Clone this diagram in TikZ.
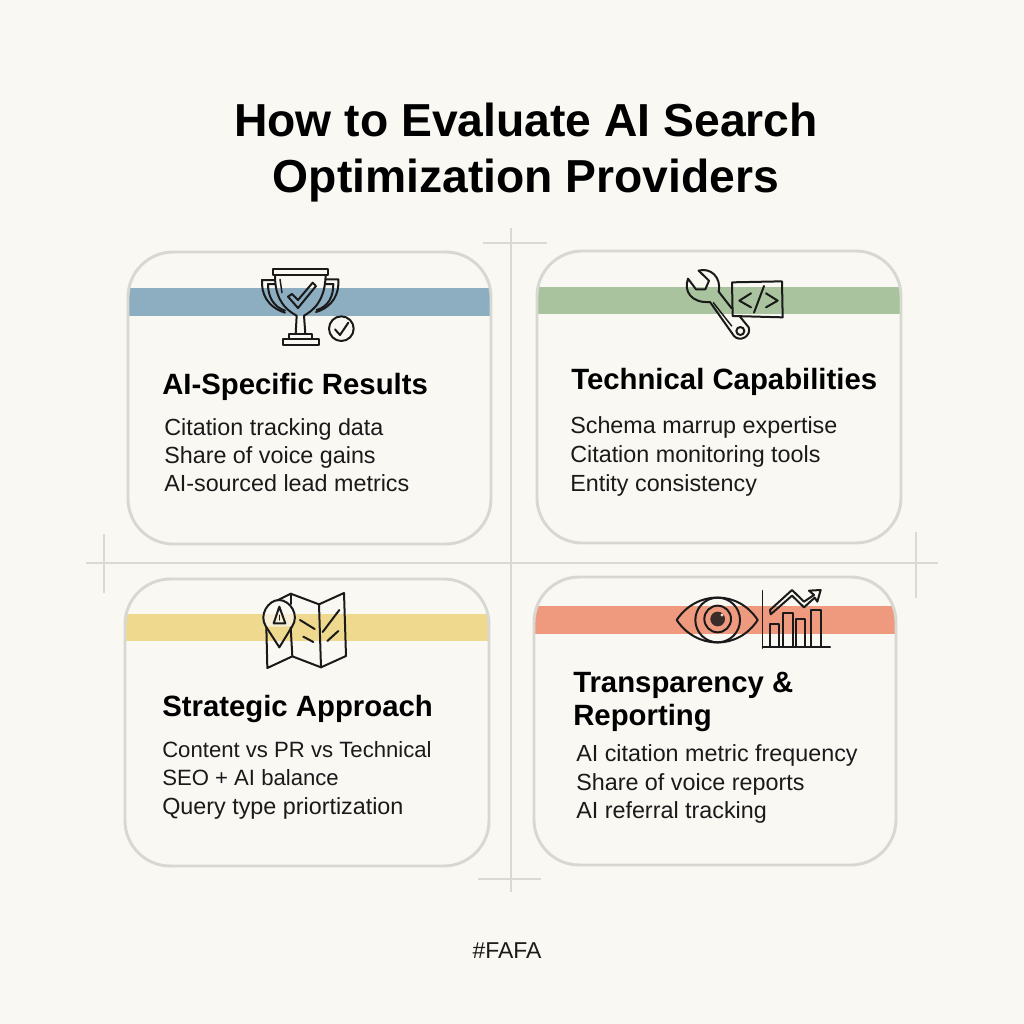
\documentclass[tikz,border=0pt]{standalone}
\usepackage{fontspec}
\setmainfont{Liberation Sans}
\definecolor{bg}{HTML}{F9F8F3}
\definecolor{cardline}{HTML}{D8D8D3}
\definecolor{crossline}{HTML}{DAD9D4}
\definecolor{ink}{HTML}{1A1A1A}
\definecolor{bandblue}{HTML}{8DADC1}
\definecolor{bandgreen}{HTML}{A9C39E}
\definecolor{bandyellow}{HTML}{EFD98F}
\definecolor{bandred}{HTML}{EF9A7E}
\newcommand{\titlefont}{\fontsize{34.7pt}{42pt}\selectfont\bfseries}
\newcommand{\headfont}{\fontsize{22pt}{25pt}\selectfont\bfseries}
\newcommand{\bodyfont}{\fontsize{17.5pt}{21pt}\selectfont}
\newcommand{\bodysmallfont}{\fontsize{16.6pt}{21pt}\selectfont}
\tikzset{
  crossrule/.style={draw=crossline,line width=1.5pt},
  cardbox/.style={draw=cardline,line width=2.2pt,rounded corners=34pt},
  titletext/.style={inner sep=0pt,anchor=base,text=black,font=\titlefont},
  headtext/.style={inner sep=0pt,anchor=base west,text=black,font=\headfont},
  bodytext/.style={inner sep=0pt,anchor=base west,text=ink,font=\bodyfont},
  bodysmall/.style={bodytext,font=\bodysmallfont},
  icon/.style={draw=ink,line width=1.5pt,line join=round,line cap=round},
  iconthin/.style={draw=ink,line width=1.1pt,line join=round,line cap=round},
}
\newcommand{\cardpic}[5]{%
  \begin{scope}
    \clip[rounded corners=34pt] (#1,#2) rectangle (#3,#4);
    \fill[#5] (#1,\bandtop) rectangle (#3,\bandbot);
  \end{scope}
  \draw[cardbox] (#1,#2) rectangle (#3,#4);
}
\begin{document}
\begin{tikzpicture}[x=0.75pt,y=-0.75pt]
\useasboundingbox (0,0) rectangle (1024,1024);
\fill[bg] (0,0) rectangle (1024,1024);
% cross
\coordinate (vt) at (511,228); \coordinate (vb) at (511,892);
\coordinate (hl) at (86,563); \coordinate (hr) at (938,563);
\coordinate (tl) at (483,243); \coordinate (tr) at (547,243);
\coordinate (bl) at (478,879); \coordinate (br) at (541,879);
\coordinate (lt) at (104,534); \coordinate (lb) at (104,593);
\coordinate (rt) at (916,532); \coordinate (rb) at (916,598);
\draw[crossrule] (vt) -- (vb);
\draw[crossrule] (hl) -- (hr);
\draw[crossrule] (tl) -- (tr);
\draw[crossrule] (bl) -- (br);
\draw[crossrule] (lt) -- (lb);
\draw[crossrule] (rt) -- (rb);
% cards
\def\bandtop{288}\def\bandbot{316}\cardpic{128}{252}{491}{544}{bandblue}
\def\bandtop{287}\def\bandbot{314}\cardpic{537}{251}{901}{543}{bandgreen}
\def\bandtop{614}\def\bandbot{641}\cardpic{125}{579}{489}{866}{bandyellow}
\def\bandtop{606}\def\bandbot{634}\cardpic{534}{577}{896}{865}{bandred}
% title
\node[titletext] (title1) at (526,136) {How to Evaluate AI Search};
\node[titletext] (title2) at (526,192) {Optimization Providers};
% card 1
\node[headtext] (h1) at (162,394) {AI-Specific Results};
\node[bodytext] (b1a) at (164,435) {Citation tracking data};
\node[bodytext] (b1b) at (164,463) {Share of voice gains};
\node[bodytext] (b1c) at (164,491) {AI-sourced lead metrics};
% card 2
\node[headtext] (h2) at (571,389) {Technical Capabilities};
\node[bodytext] (b2a) at (570,433) {Schema marrup expertise};
\node[bodytext] (b2b) at (570,462) {Citation monitoring tools};
\node[bodytext] (b2c) at (570,491) {Entity consistency};
% card 3
\node[headtext] (h3) at (162,716) {Strategic Approach};
\node[bodysmall] (b3a) at (162,757) {Content vs PR vs Technical};
\node[bodysmall] (b3b) at (162,785) {SEO + AI balance};
\node[bodytext] (b3c) at (162,814) {Query type priortization};
% card 4
\node[headtext] (h4a) at (573,692) {Transparency \&};
\node[headtext] (h4b) at (573,725) {Reporting};
\node[bodytext] (b4a) at (576,761) {AI citation metric frequency};
\node[bodytext] (b4b) at (576,790) {Share of voice reports};
\node[bodytext] (b4c) at (576,818) {AI referral tracking};
% footer
\node[inner sep=0pt,anchor=base,text=ink,font=\fontsize{17.2pt}{20pt}\selectfont] (foot) at (507,958) {\#FAFA};
% trophy icon
\begin{scope}[shift={(230,250)},x=.25pt,y=-.25pt]
\draw[icon] (128,58) rectangle (295,75);
\draw[icon] (135,75) .. controls (135,130) and (150,170) .. (200,197) -- (197,252);
\draw[icon] (287,75) .. controls (285,130) and (270,170) .. (222,197) -- (226,252);
\draw[icon] (178,252) rectangle (245,268);
\draw[icon] (158,268) rectangle (268,285);
\draw[icon] (134,90) -- (96,90) .. controls (94,130) and (110,170) .. (165,188);
\draw[icon] (136,102) -- (114,102) .. controls (114,140) and (130,170) .. (165,182);
\draw[icon] (288,88) -- (325,88) .. controls (328,130) and (310,170) .. (258,186);
\draw[icon] (286,102) -- (310,102) .. controls (310,140) and (295,170) .. (260,180);
\draw[iconthin] (150,88) -- (156,128);
\draw[icon] (174,140) -- (186,132) -- (204,150) -- (248,98) -- (258,108) -- (204,174) -- cycle;
\draw[icon] (334,236) circle (37);
\draw[icon] (315,238) -- (330,255) -- (355,218);
\end{scope}
% wrench icon
\begin{scope}[shift={(660,250)},x=.25pt,y=-.25pt]
\draw[icon] (116,62) .. controls (150,52) and (185,80) .. (176,125) -- (215,175);
\draw[icon] (116,62) -- (147,92) -- (136,118) -- (108,118) -- (84,86) .. controls (70,125) and (95,160) .. (150,156) -- (222,258) .. controls (240,278) and (275,258) .. (266,232) -- (240,200);
\draw[iconthin] (160,158) -- (215,228);
\draw[icon] (241,243) circle (12);
\draw[icon] (216,97) -- (366,94) -- (368,202) -- (218,198) -- cycle;
\draw[icon] (273,130) -- (238,152) -- (273,172);
\draw[icon] (318,130) -- (353,152) -- (318,172);
\draw[icon] (312,108) -- (282,188);
\end{scope}
% map icon
\begin{scope}[shift={(240,580)},x=.25pt,y=-.25pt]
\draw[icon] (110,62) -- (152,41) -- (237,73) -- (312,39) -- (318,228) -- (243,262) -- (157,229) -- (82,264) -- (79,140);
\draw[icon] (152,41) -- (152,72);
\draw[icon] (152,142) -- (157,229);
\draw[icon] (237,73) -- (243,262);
\fill[bg,opacity=.7] (78,140) .. controls (55,105) and (85,60) .. (117,60) .. controls (150,60) and (180,105) .. (156,140) -- cycle;
\draw[icon] (118,202) -- (78,140) .. controls (55,105) and (85,60) .. (117,60) .. controls (150,60) and (180,105) .. (156,140) -- cycle;
\draw[icon] (118,80) -- (101,130) -- (136,130) -- cycle;
\draw[iconthin] (118,106) -- (118,120);
\draw[icon] (180,120) -- (224,147);
\draw[icon] (190,170) -- (220,186);
\draw[icon] (298,90) -- (248,156);
\draw[icon] (295,153) -- (262,183);
\end{scope}
% eye and chart icon
\begin{scope}[shift={(660,575)},x=.25pt,y=-.25pt]
\draw[icon] (50,135) .. controls (110,45) and (235,45) .. (293,135) .. controls (235,225) and (110,225) .. (50,135) -- cycle;
\draw[icon] (173,135) circle (67);
\draw[icon] (173,132) circle (40);
\fill[ink!85!bandred] (173,132) circle (22);
\fill[bandred!40] (186,120) circle (5);
\draw[iconthin] (308,47) -- (308,220);
\draw[icon] (308,215) -- (510,215);
\draw[icon] (331,215) -- (331,148) -- (357,148) -- (357,215);
\draw[icon] (370,215) -- (370,114) -- (398,114) -- (398,215);
\draw[icon] (409,215) -- (409,132) -- (436,132) -- (436,215);
\draw[icon] (454,215) -- (454,105) -- (483,105) -- (483,215);
\draw[icon] (330,105) -- (396,45) -- (432,80) -- (462,60) -- (447,47) -- (482,45) -- (472,80) -- (464,68) -- (432,97) -- (396,62) -- (332,118) -- cycle;
\end{scope}
\end{tikzpicture}
\end{document}
